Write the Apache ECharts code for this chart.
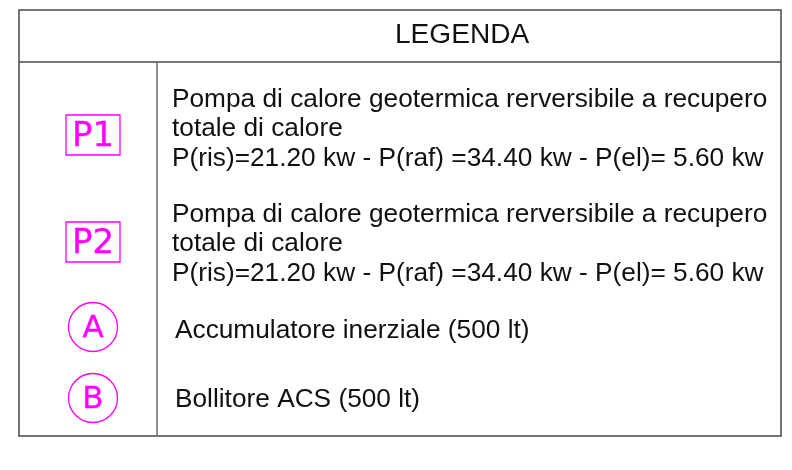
<!DOCTYPE html>
<html>
<head>
<meta charset="utf-8">
<script src="https://cdn.jsdelivr.net/npm/echarts@6/dist/echarts.min.js"></script>
<style>
  html, body { margin: 0; padding: 0; background: #fff; }
  #main { width: 792px; height: 470px; }
</style>
</head>
<body>
<div id="main"></div>
<script>
// legend table content
const title = "LEGENDA";
const symbols = ["P1", "P2", "A", "B"];
const symbolShapes = ["rect", "rect", "circle", "circle"];
const descriptions = [
  ["Pompa di calore geotermica rerversibile a recupero", "totale di calore", "P(ris)=21.20 kw - P(raf) =34.40 kw - P(el)= 5.60 kw"],
  ["Pompa di calore geotermica rerversibile a recupero", "totale di calore", "P(ris)=21.20 kw - P(raf) =34.40 kw - P(el)= 5.60 kw"],
  ["Accumulatore inerziale (500 lt)"],
  ["Bollitore ACS (500 lt)"]
];

const chart = echarts.init(document.getElementById("main"), null, { renderer: "canvas" });

const MAGENTA = "#ff00ff";
const table = { left: 19, top: 10, right: 781, bottom: 436, headerY: 62, colX: 157 };
// vertical centre of each row's symbol and of its first text line
const rowSymbolY = [135, 242, 327, 398];
const rowTextY = [100, 215, 331, 400];
const lineGap = 29.5;
const bodyFont = "25px 'Liberation Sans', Arial";

function buildGraphics() {
  const g = [];
  // frame
  g.push({
    type: "rect",
    shape: { x: table.left, y: table.top, width: table.right - table.left, height: table.bottom - table.top },
    style: { fill: "#fff", stroke: "#4a4a4a", lineWidth: 1.5 }
  });
  g.push({
    type: "line",
    shape: { x1: table.left, y1: table.headerY, x2: table.right, y2: table.headerY },
    style: { stroke: "#4a4a4a", lineWidth: 1.5 }
  });
  g.push({
    type: "line",
    shape: { x1: table.colX, y1: table.headerY, x2: table.colX, y2: table.bottom },
    style: { stroke: "#6a6a6a", lineWidth: 1.5 }
  });
  g.push({
    type: "text",
    x: 395, y: 36, scaleX: 1.04,
    style: { text: title, font: "27px 'Liberation Sans', Arial", fill: "#111", align: "left", verticalAlign: "middle" }
  });

  symbols.forEach((s, i) => {
    const cy = rowSymbolY[i];
    if (symbolShapes[i] === "rect") {
      g.push({
        type: "rect",
        shape: { x: 66, y: cy - 20, width: 54, height: 40 },
        style: { fill: "none", stroke: MAGENTA, lineWidth: 1.3 }
      });
      g.push({
        type: "text",
        x: 93, y: cy + 2,
        style: { text: s, font: "34px 'DejaVu Sans'", fill: MAGENTA, stroke: MAGENTA, lineWidth: 0.3, align: "center", verticalAlign: "middle" }
      });
    } else {
      g.push({
        type: "circle",
        shape: { cx: 93, cy: cy, r: 24.5 },
        style: { fill: "none", stroke: MAGENTA, lineWidth: 1.3 }
      });
      g.push({
        type: "text",
        x: 93, y: cy + 2,
        style: { text: s, font: "31px 'DejaVu Sans'", fill: MAGENTA, stroke: MAGENTA, lineWidth: 0.3, align: "center", verticalAlign: "middle" }
      });
    }
    const textX = descriptions[i].length > 1 ? 172 : 175;
    descriptions[i].forEach((line, j) => {
      g.push({
        type: "text",
        x: textX, y: rowTextY[i] + j * lineGap, scaleX: 1.05,
        style: { text: line, font: bodyFont, fill: "#111", align: "left", verticalAlign: "middle" }
      });
    });
  });
  return g;
}

chart.setOption({
  backgroundColor: "#fff",
  animation: false,
  graphic: buildGraphics()
});
</script>
</body>
</html>
